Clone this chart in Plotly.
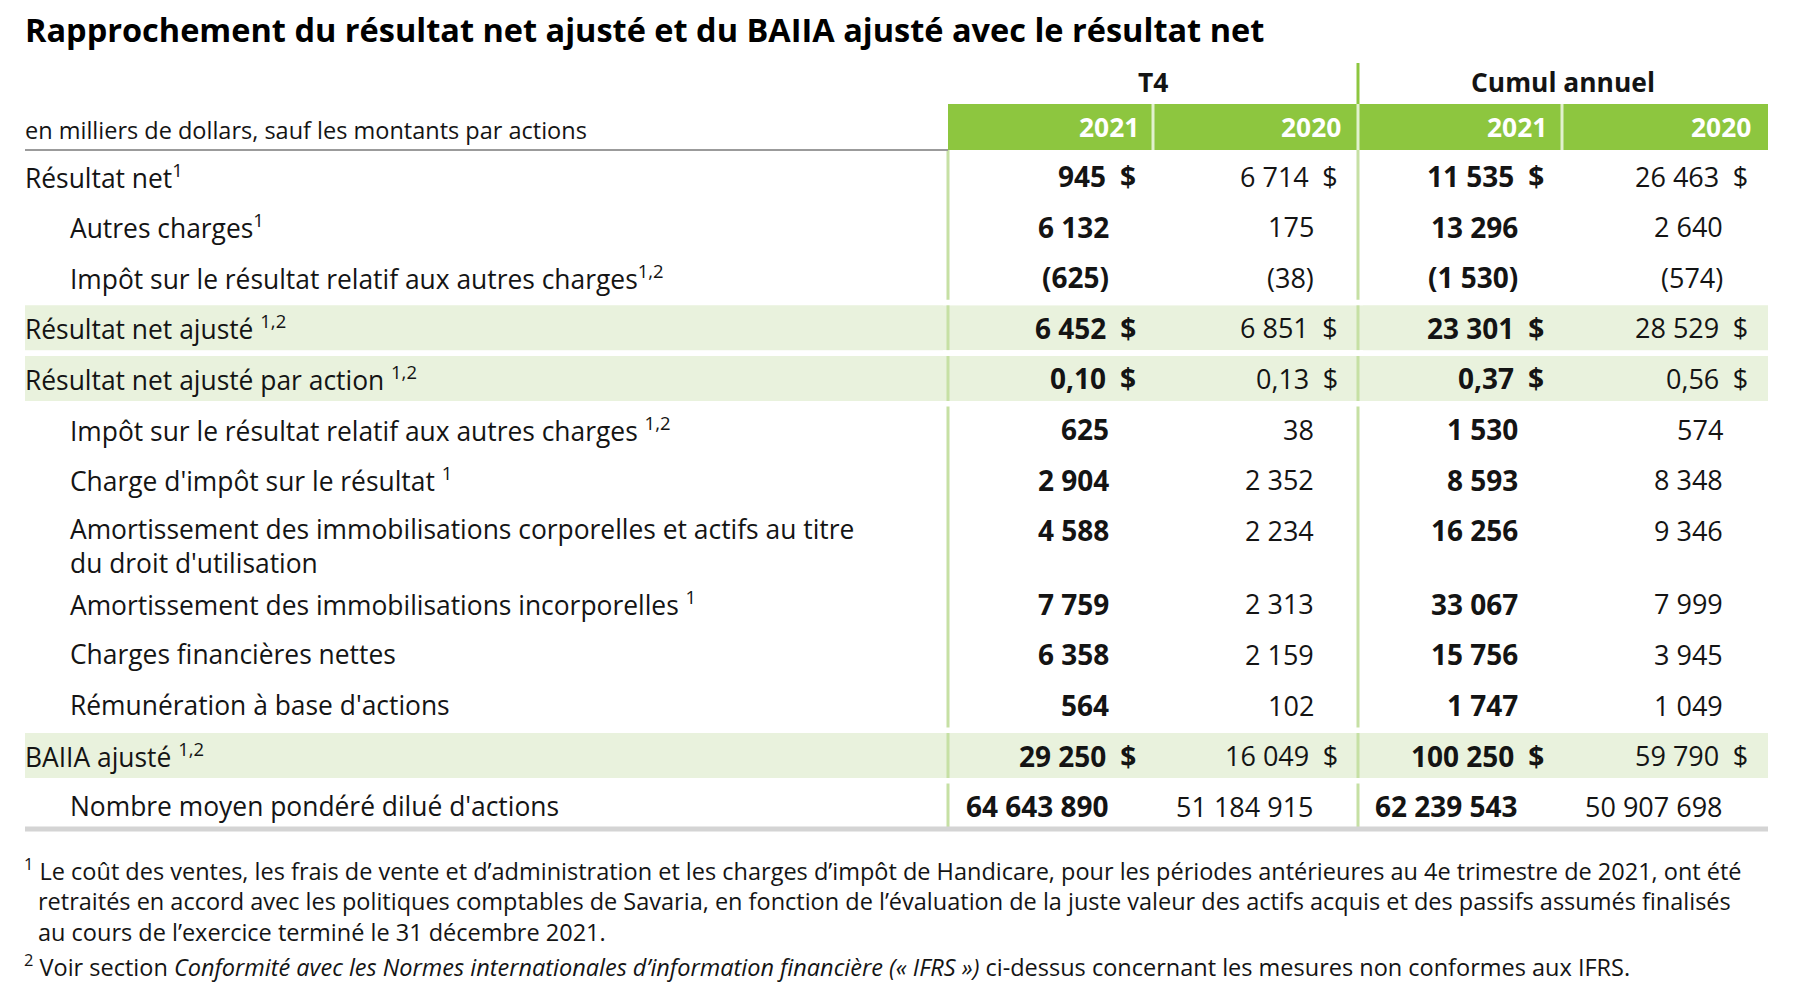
import plotly.graph_objects as go

# Palette
VERT = "#8dc63f"; VERT_PALE = "#e9f2dd"; VERT_TRAIT = "#c6e0a4"
GRIS = "#9b9b9b"; GRIS_PALE = "#d4d4d4"; NOIR = "#141414"
POLICE = "Open Sans, Liberation Sans, Arial, sans-serif"

TITRE = "Rapprochement du résultat net ajusté et du BAIIA ajusté avec le résultat net"
SOUS_TITRE = "en milliers de dollars, sauf les montants par actions"
GROUPES = ["T4", "Cumul annuel"]
ANNEES = ["2021", "2020", "2021", "2020"]

libelles = [
    "Résultat net<sup>1</sup>",
    "Autres charges<sup>1</sup>",
    "Impôt sur le résultat relatif aux autres charges<sup>1,2</sup>",
    "Résultat net ajusté <sup>1,2</sup>",
    "Résultat net ajusté par action <sup>1,2</sup>",
    "Impôt sur le résultat relatif aux autres charges <sup>1,2</sup>",
    "Charge d'impôt sur le résultat <sup>1</sup>",
    "Amortissement des immobilisations corporelles et actifs au titre<br>du droit d'utilisation",
    "Amortissement des immobilisations incorporelles <sup>1</sup>",
    "Charges financières nettes",
    "Rémunération à base d'actions",
    "BAIIA ajusté <sup>1,2</sup>",
    "Nombre moyen pondéré dilué d'actions",
]
retrait = [0, 1, 1, 0, 0, 1, 1, 1, 1, 1, 1, 0, 1]
surligne = [0, 0, 0, 1, 1, 0, 0, 0, 0, 0, 0, 1, 0]
dollar = [1, 0, 0, 1, 1, 0, 0, 0, 0, 0, 0, 1, 0]
par_action = [0, 0, 0, 0, 1, 0, 0, 0, 0, 0, 0, 0, 0]

t4_2021 = [945, 6132, -625, 6452, 0.10, 625, 2904, 4588, 7759, 6358, 564, 29250, 64643890]
t4_2020 = [6714, 175, -38, 6851, 0.13, 38, 2352, 2234, 2313, 2159, 102, 16049, 51184915]
cumul_2021 = [11535, 13296, -1530, 23301, 0.37, 1530, 8593, 16256, 33067, 15756, 1747, 100250, 62239543]
cumul_2020 = [26463, 2640, -574, 28529, 0.56, 574, 8348, 9346, 7999, 3945, 1049, 59790, 50907698]

notes = [
    ("<sup>1</sup> ", "Le coût des ventes, les frais de vente et d’administration et les charges d’impôt de Handicare, "
     "pour les périodes antérieures au 4e trimestre de 2021, ont été"),
    ("", "retraités en accord avec les politiques comptables de Savaria, en fonction de l’évaluation de la juste "
     "valeur des actifs acquis et des passifs assumés finalisés"),
    ("", "au cours de l’exercice terminé le 31 décembre 2021."),
    ("<sup>2</sup> ", "Voir section <i>Conformité avec les Normes internationales d’information financière "
     "(« IFRS »)</i> ci-dessus concernant les mesures non conformes aux IFRS."),
]

# géométrie (en pixels de la page ; la page a une marge de 8 px)
MARGE = 8
X0, X_TXT, X_RETRAIT, X_LIB_FIN, X_FIN = 25, 23, 68, 948, 1768
X_SEP = [948, 1153, 1358, 1562, 1768]
BORD_DOLLAR = [1138, 1340, 1546, 1750]
BORD_NOMBRE = [1111, 1316, 1520, 1725]
GRAS = [True, False, True, False]
Y0, PAS, LIGNE_SUPP = 176, 50.6, 23
T_CORPS, T_CHIFFRE, T_CHIFFRE_GRAS, T_TITRE, T_NOTE = 26.4, 27, 28, 32.5, 23.5


def fmt(v, action=False):
    if action:
        s = f"{abs(v):.2f}".replace(".", ",")
    else:
        s = f"{abs(int(v)):,}".replace(",", " ")
    return f"({s})" if v < 0 else s


# position verticale de chaque ligne
ys = []
y = Y0
for lib in libelles:
    ys.append(y)
    y += PAS + LIGNE_SUPP * lib.count("<br>")

fig = go.Figure()
fig.add_trace(go.Scatter(x=[MARGE, 1800], y=[MARGE, 1007], mode="markers",
                         marker=dict(opacity=0), hoverinfo="skip", showlegend=False))

formes = []
annots = []

def rect(x0, x1, y0, y1, col):
    formes.append(dict(type="rect", xref="x", yref="y", x0=x0, x1=x1, y0=y0, y1=y1,
                       fillcolor=col, line=dict(width=0), layer="above"))

def trait(x0, x1, y0, y1, col, w):
    formes.append(dict(type="line", xref="x", yref="y", x0=x0, x1=x1, y0=y0, y1=y1,
                       line=dict(color=col, width=w), layer="above"))

def texte(x, y, t, taille, xa="left", gras=False, col=NOIR):
    annots.append(dict(x=x, y=y, xref="x", yref="y", text=f"<b>{t}</b>" if gras else t,
                       showarrow=False, xanchor=xa, yanchor="middle", align=xa if xa != "center" else "center",
                       font=dict(family=POLICE, size=taille, color=col)))

# lignes surlignées
for i, s in enumerate(surligne):
    if s:
        rect(X0, X_FIN, ys[i] - 22.5, ys[i] + 22.5, VERT_PALE)

# traits verticaux du corps
for xv in (X_SEP[0], X_SEP[2]):
    trait(xv, xv, 150, 829, VERT_TRAIT, 3)
trait(X_SEP[2], X_SEP[2], 63, 104, VERT, 3)
# interruptions autour des lignes surlignées
for i, s in enumerate(surligne):
    if s:
        rect(X_SEP[0] - 5, X_SEP[2] + 5, ys[i] - 28, ys[i] - 22.5, "white")
        rect(X_SEP[0] - 5, X_SEP[2] + 5, ys[i] + 22.5, ys[i] + 28, "white")

# en-tête vert
rect(X_SEP[0], X_FIN, 104, 150, VERT)
for xv in X_SEP[1:4]:
    trait(xv, xv, 104, 150, "rgba(255,255,255,0.75)", 3)
trait(X0, X_LIB_FIN, 150, 150, GRIS, 2)
trait(X0, X_FIN, 829, 829, GRIS_PALE, 5)

# textes d'en-tête
texte(X_TXT, 29, TITRE, T_TITRE, gras=True, col="black")
texte(X_TXT, 130, SOUS_TITRE, 23.5)
texte((X_SEP[0] + X_SEP[2]) / 2, 82, GROUPES[0], T_CORPS, xa="center", gras=True)
texte((X_SEP[2] + X_SEP[4]) / 2, 82, GROUPES[1], T_CORPS, xa="center", gras=True)
for j, an in enumerate(ANNEES):
    texte(BORD_DOLLAR[j] + 3, 127, an, T_CORPS, xa="right", gras=True, col="white")

# corps du tableau
colonnes = [t4_2021, t4_2020, cumul_2021, cumul_2020]
for i, lib in enumerate(libelles):
    xl = X_RETRAIT if retrait[i] else X_TXT
    n_sup = lib.count("<br>")
    # libellé sur plusieurs lignes : centré entre ses lignes (interligne plotly = 1,3 em)
    texte(xl, ys[i] - n_sup + n_sup * 0.65 * T_CORPS, lib, T_CORPS)
    for j, col in enumerate(colonnes):
        s = fmt(col[i], par_action[i])
        taille = T_CHIFFRE_GRAS if GRAS[j] else T_CHIFFRE
        if dollar[i]:
            texte(BORD_DOLLAR[j], ys[i], s + "\u2002$", taille, xa="right", gras=GRAS[j])
        else:
            texte(BORD_NOMBRE[j], ys[i], s, taille, xa="right", gras=GRAS[j])

# notes
for k, (sup, t) in enumerate(notes):
    yn = [869, 901, 932, 965][k]
    if sup:
        texte(X_TXT - 1, yn, sup + t, T_NOTE)
    else:
        texte(36, yn, t, T_NOTE)

fig.update_layout(
    width=1800 - MARGE, height=1007 - MARGE,
    margin=dict(l=0, r=0, t=0, b=0),
    paper_bgcolor="white", plot_bgcolor="white",
    xaxis=dict(range=[MARGE, 1800], visible=False, fixedrange=True),
    yaxis=dict(range=[1007, MARGE], visible=False, fixedrange=True),
    shapes=formes, annotations=annots, showlegend=False)

fig.write_html("out.html")
